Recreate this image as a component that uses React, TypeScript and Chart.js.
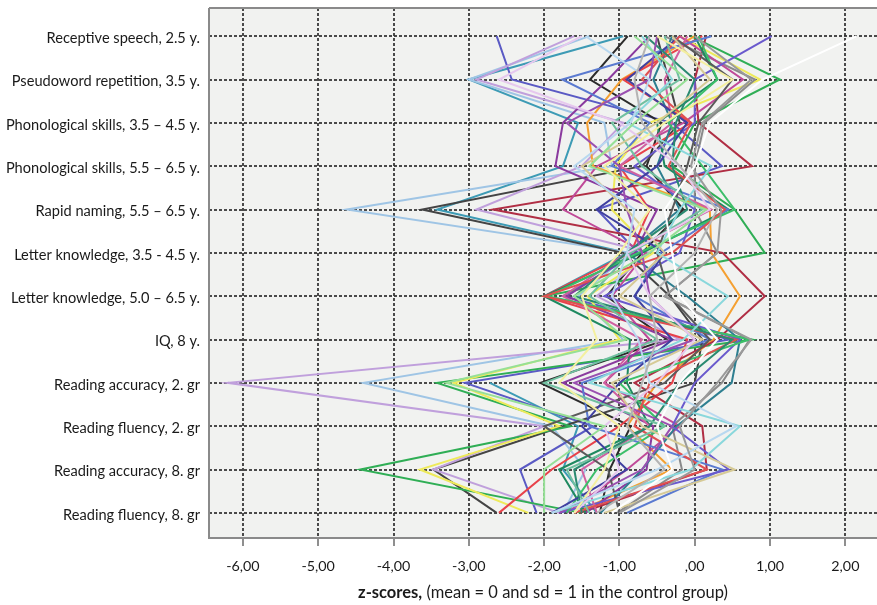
import React, { useEffect, useRef } from 'react';
import { Chart, registerables } from 'chart.js';

Chart.register(...registerables);

const categories = [
  'Receptive speech, 2.5 y.',
  'Pseudoword repetition, 3.5 y.',
  'Phonological skills, 3.5 – 4.5 y.',
  'Phonological skills, 5.5 – 6.5 y.',
  'Rapid naming, 5.5 – 6.5 y.',
  'Letter knowledge, 3.5 - 4.5 y.',
  'Letter knowledge, 5.0 – 6.5 y.',
  'IQ, 8 y.',
  'Reading accuracy, 2. gr',
  'Reading fluency, 2. gr',
  'Reading accuracy, 8. gr',
  'Reading fluency, 8. gr',
];

const xTickValues = [-6, -5, -4, -3, -2, -1, 0, 1, 2];
const xTickLabels = ['-6,00', '-5,00', '-4,00', '-3,00', '-2,00', '-1,00', ',00', '1,00', '2,00'];

// z-scores per child, one value per category (null = missing)
const childA = [-0.95, -3.0, -1.55, -1.75, -3.42, -0.9, -2.0, null, -2.72, -1.55, -1.75, -1.3];
const childB = [-1.4, -3.0, -1.2, -1.1, -4.62, -0.85, -1.55, -0.95, -4.4, -1.9, -1.45, -1.75];
const childC = [-2.63, -2.43, -0.3, 0.36, -1.3, -0.75, -1.75, 0.46, -3.05, -1.35, -2.32, -2.1];
const childD = [-0.89, -1.39, -0.44, -0.64, -0.15, -0.7, -1.17, -0.37, -2.05, -0.85, -1.13, -1.26];
const childE = [-0.5, -0.35, -0.2, -0.7, -3.62, -0.95, -0.33, 0.1, 0.0, -1.75, -3.47, -2.63];
const childF = [-1.6, -2.9, -0.95, -1.5, -2.9, -0.6, -1.3, -0.2, -6.2, -2.0, -3.47, -1.8];
const childG = [-0.05, 1.13, 0.0, -0.3, 0.53, 0.93, -2.0, 0.76, -3.42, -1.65, -4.44, -1.5];
const childH = [-0.2, 0.87, -0.6, -1.05, -1.1, -0.55, -1.42, -1.0, -3.2, -1.8, -3.65, -2.21];
const childI = [0.0, -0.97, -1.43, -1.35, 0.2, 0.22, 0.6, 0.25, -0.5, -0.9, -0.3, -1.6];
const childJ = [0.1, -0.95, -0.05, -1.0, -0.6, -0.85, -2.0, -0.1, -0.3, -1.0, -1.9, -2.6];
const childK = [0.15, 0.0, 0.05, 0.76, -2.68, 0.37, 0.93, 0.3, -0.8, 0.1, 0.16, -1.52];
const childL = [-0.4, 0.8, 0.13, 0.0, 0.0, 0.3, -0.4, 0.73, 0.36, -0.3, -0.17, -1.03];
const childM = [-0.2, 0.64, -0.15, -1.3, -1.75, -0.65, -1.1, -0.6, -1.2, -0.2, -0.9, -1.7];
const childN = [-0.6, -1.15, -1.75, -1.85, -0.5, -0.8, -1.7, -0.3, -1.75, -0.55, -0.64, -1.45];
const childO = [-0.7, -0.3, -0.9, 0.22, -0.2, -0.5, 0.44, -0.15, -1.4, 0.6, -0.05, -1.9];
const childP = [-0.3, 0.2, -0.5, -1.5, -0.9, -0.4, -1.0, 0.1, -1.1, -0.7, 0.53, -1.2];
const childQ = [-0.3, -0.55, -0.3, -0.5, -0.2, -0.9, -0.1, 0.6, 0.49, -0.24, -0.7, -1.25];
const childR = [0.0, 0.3, -0.5, -0.4, 0.45, -0.7, -2.0, -0.86, -0.9, -0.6, -1.8, -1.45];
const childS = [-1.5, -2.6, -1.0, -0.2, 0.2, -0.9, -0.6, 0.0, -0.5, -1.2, -1.0, -1.6];
const childT = [0.22, -1.76, -0.6, -1.1, 0.44, -0.45, -0.8, 0.2, -1.5, -1.4, 0.37, -0.9];
const childU = [-0.8, -0.1, -0.8, -1.4, 0.15, -0.6, -1.6, -0.9, -3.3, -1.2, -2.0, -2.0];
const childV = [2.15, 0.9, 0.2, 0.0, -0.4, -0.3, -0.2, 0.3, -0.2, -0.5, -0.3, -1.1];
const childW = [-0.6, -0.8, -0.7, -0.2, 0.3, 0.0, -0.6, -0.5, -0.7, -0.9, -0.4, -1.3];
const childX = [1.02, 0.0, 0.0, -0.8, 0.0, -0.2, -1.2, 0.6, 0.0, -0.3, 0.45, -1.8];
const childY = [-0.1, -0.4, -0.3, -1.0, 0.22, -0.9, -1.75, -0.7, -1.2, -0.6, -1.5, -1.3];
const childZ = [-0.5, 0.5, -0.4, -1.2, -0.6, -1.0, -1.5, -1.3, -1.8, -1.0, -1.2, -1.6];
const childAA = [-0.2, -0.9, -0.1, -0.5, -1.3, -0.4, -0.8, -0.3, -1.0, -1.5, -0.9, -1.9];
const childAB = [-0.4, -0.2, -1.1, -0.7, 0.1, -0.85, -1.4, -0.5, -2.0, -0.4, -1.7, -1.4];
const childAC = [-0.3, 0.5, 0.05, -0.1, -0.3, -0.5, -0.33, 0.2, -0.4, -2.0, -1.15, -1.0];
const childAD = [0.05, 0.3, -0.35, 0.1, 0.53, -0.75, -1.95, 0.73, -1.0, -0.4, -1.3, -1.7];
const childAF = [-1.45, -0.6, -0.85, -1.6, -0.8, -0.9, -1.1, -0.75, -0.6, 0.55, -0.5, -1.9];
const childAG = [0.0, 0.75, 0.1, -0.05, 0.35, 0.3, -0.4, 0.75, 0.3, -0.2, 0.0, -1.0];
const childAH = [-0.5, -0.6, -1.7, -1.0, -0.9, -0.7, -0.6, 0.0, -1.6, -0.3, -0.7, -1.8];
const childAI = [-0.65, 0.0, -0.25, -0.3, -0.1, -0.9, -1.6, 0.5, -0.2, -0.6, -1.6, -1.5];
const childAJ = [-0.2, -0.7, -0.05, -0.35, 0.4, -0.3, -2.0, 0.55, -0.6, -0.8, 0.16, -1.6];

const children = [
  childV, childW, childAG, childAF, childZ, childU, childS, childP, childO, childAB, childAH,
  childAI, childAJ, childAA, childAC, childAD, childY, childX, childT, childR, childQ, childN,
  childM, childL, childK, childJ, childI, childH, childG, childF, childE, childD, childC, childB, childA,
];

const childColors = [
  '#ffffff', '#b4b4b4', '#9a9a9a', '#b8d8f0', '#f4f0a0', '#96e096', '#e6c8ee', '#d6ca96',
  '#8ad8dc', '#70c0a0', '#9a50b0', '#2a8a70', '#e05050', '#4040a0', '#5a5a5a', '#3cbf6a',
  '#d060a0', '#6a5acd', '#5a7ad0', '#1f8a60', '#2e7f90', '#8a3a9e', '#c04a98', '#8a8a8a',
  '#b02e44', '#e8424a', '#f5a031', '#eeea5a', '#2fae55', '#c0a0dc', '#444444', '#2b2b2b',
  '#5a5ac4', '#9fc5e5', '#3d9bb5',
];

const framePlugin = {
  id: 'frame',
  beforeDraw(chart: any) {
    const { ctx, chartArea: a } = chart;
    ctx.save();
    ctx.fillStyle = '#f1f2f0';
    ctx.fillRect(a.left, a.top, a.right - a.left, a.bottom - a.top);
    ctx.restore();
  },
  afterDraw(chart: any) {
    const { ctx, chartArea: a } = chart;
    ctx.save();
    ctx.strokeStyle = '#8a8a8a';
    ctx.lineWidth = 2;
    ctx.beginPath();
    ctx.moveTo(a.left, a.top);
    ctx.lineTo(a.right, a.top);
    ctx.moveTo(a.left, a.top);
    ctx.lineTo(a.left, a.bottom);
    ctx.lineTo(a.right, a.bottom);
    ctx.stroke();

    const bold = 'z-scores,';
    const rest = ' (mean = 0 and sd = 1 in the control group)';
    ctx.fillStyle = '#1a1a1a';
    ctx.textBaseline = 'middle';
    ctx.font = 'bold 16.5px Lato';
    const wb = ctx.measureText(bold).width;
    ctx.font = '16.5px Lato';
    const wr = ctx.measureText(rest).width;
    const cx = (a.left + a.right) / 2;
    const x0 = cx - (wb + wr) / 2;
    const y = 593;
    ctx.font = 'bold 16.5px Lato';
    ctx.textAlign = 'left';
    ctx.fillText(bold, x0, y);
    ctx.font = '16.5px Lato';
    ctx.fillText(rest, x0 + wb, y);
    ctx.restore();
  },
};

export default function App() {
  const ref = useRef<HTMLCanvasElement | null>(null);

  useEffect(() => {
    document.body.style.margin = '0';
    const canvas = ref.current;
    if (!canvas) return;

    const datasets = children.map((vals, i) => ({
      label: 'child ' + (i + 1),
      data: vals.map((v, row) => ({ x: v, y: row })),
      borderColor: childColors[i],
      backgroundColor: childColors[i],
      borderWidth: 2,
      pointRadius: 0,
      showLine: true,
      spanGaps: false,
      tension: 0,
    }));

    const chart = new Chart(canvas, {
      type: 'scatter',
      data: { datasets: datasets as any },
      plugins: [framePlugin],
      options: {
        responsive: false,
        animation: false,
        layout: { padding: { top: 8, right: 0, left: 0, bottom: 0 } },
        plugins: {
          legend: { display: false },
          tooltip: { enabled: false },
        },
        scales: {
          x: {
            type: 'linear',
            min: -6.45,
            max: 2.42,
            afterBuildTicks: (scale: any) => {
              scale.ticks = xTickValues.map((v) => ({ value: v }));
            },
            afterFit: (scale: any) => {
              scale.height = 67;
              scale.paddingLeft = 0;
              scale.paddingRight = 0;
            },
            ticks: {
              callback: (value: any) => {
                const idx = xTickValues.indexOf(Number(value));
                return idx >= 0 ? xTickLabels[idx] : '';
              },
              font: { family: 'Lato', size: 14.3 },
              color: '#1a1a1a',
              padding: 12,
              maxRotation: 0,
            },
            grid: {
              color: 'rgba(45,45,45,0.85)',
              lineWidth: 2,
              drawTicks: true,
              tickLength: 8,
              tickColor: '#6a6a6a',
              tickWidth: 1.5,
              tickBorderDash: [],
            },
            border: { display: false, dash: [3, 2] },
          },
          y: {
            type: 'linear',
            reverse: true,
            min: -0.65,
            max: 11.58,
            afterBuildTicks: (scale: any) => {
              scale.ticks = categories.map((_, i) => ({ value: i }));
            },
            afterFit: (scale: any) => {
              scale.width = 209;
              scale.paddingTop = 0;
              scale.paddingBottom = 0;
            },
            ticks: {
              callback: (value: any) => categories[Number(value)] ?? '',
              font: { family: 'Lato', size: 14.6 },
              color: '#1a1a1a',
              padding: 9,
              labelOffset: 2,
              autoSkip: false,
            },
            grid: {
              color: 'rgba(45,45,45,0.85)',
              lineWidth: 2,
              drawTicks: false,
            },
            border: { display: false, dash: [3, 2] },
          },
        },
      },
    });

    return () => chart.destroy();
  }, []);

  return (
    <div style={{ position: 'absolute', left: 0, top: 0, width: 877, height: 605, background: '#ffffff' }}>
      <canvas ref={ref} width={877} height={605} style={{ display: 'block', width: 877, height: 605 }} />
    </div>
  );
}
